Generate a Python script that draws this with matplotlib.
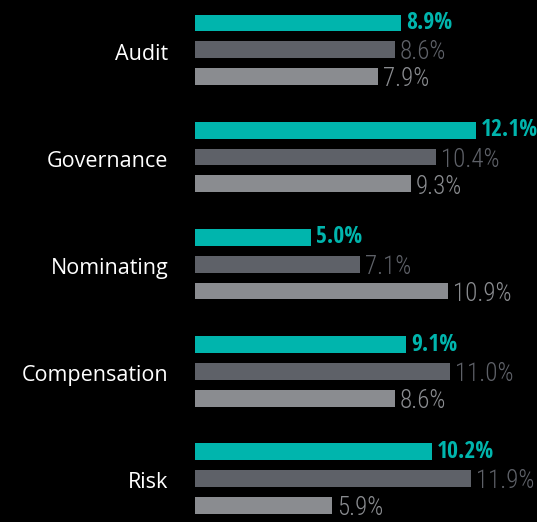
import matplotlib.pyplot as plt
from matplotlib import font_manager

categories = ['Audit', 'Governance', 'Nominating', 'Compensation', 'Risk']
series_a = [8.9, 12.1, 5.0, 9.1, 10.2]
series_b = [8.6, 10.4, 7.1, 11.0, 11.9]
series_c = [7.9, 9.3, 10.9, 8.6, 5.9]

teal = '#00b5ad'
dark = '#5e6168'
light = '#8a8c90'


def weight_num(w):
    if isinstance(w, str):
        return font_manager.weight_dict.get(w, 400)
    return int(w)


def pick(cands, lo, hi):
    for name in cands:
        ws = [weight_num(f.weight) for f in font_manager.fontManager.ttflist if f.name == name]
        if any(lo <= w <= hi for w in ws):
            return name
    return 'DejaVu Sans'


condensed = ['Open Sans Condensed', 'Roboto Condensed', 'Barlow Condensed', 'Asap Condensed']
bold_font = pick(condensed, 600, 800)
light_font = pick(condensed, 200, 350)

fig = plt.figure(figsize=(5.37, 5.22), dpi=100, facecolor='black')
ax = fig.add_axes([195 / 537, 0, 342 / 537, 1])
ax.set_facecolor('black')

stride = 4
h = 0.63
for g, cat in enumerate(categories):
    y0 = g * stride
    vals = [series_a[g], series_b[g], series_c[g]]
    cols = [teal, dark, light]
    for i, (v, c) in enumerate(zip(vals, cols)):
        ax.barh(y0 + i, v, height=h, color=c, edgecolor='none')
        if i == 0:
            ax.text(v + 0.22, y0 + i, f'{v:.1f}%', color=teal, fontsize=17,
                    fontweight='bold', family=bold_font, va='center', ha='left')
        else:
            ax.text(v + 0.22, y0 + i + 0.1, f'{v:.1f}%', color=c, fontsize=18,
                    fontweight='light', family=light_font, va='center', ha='left')
    ax.text(-1.15, y0 + 1.16, cat, color='white', fontsize=15.5, family='Open Sans',
            ha='right', va='center', clip_on=False)

ax.set_xlim(0, 342 / 23.2)
ax.set_ylim(18.616, -0.858)
ax.axis('off')

fig.savefig('out.png', dpi=100, facecolor='black')
